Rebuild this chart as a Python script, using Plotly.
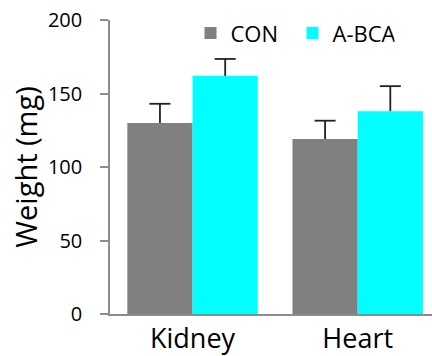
import plotly.graph_objects as go

categories = ["Kidney", "Heart"]
con_values = [130, 119]
con_err = [13, 12.5]
abca_values = [162, 138]
abca_err = [11.5, 17]
y_ticks = [0, 50, 100, 150, 200]

ERR_COLOR = "#222222"

def add_series(name, values, errs, color, group):
    fig.add_trace(go.Bar(
        name=name, x=categories, y=values, offsetgroup=group,
        marker=dict(color=color, line=dict(width=0)),
        error_y=dict(type="data", array=errs, arrayminus=[0] * len(errs), symmetric=False,
                     color=ERR_COLOR, thickness=1.8, width=0),
    ))
    tops = [v + e for v, e in zip(values, errs)]
    fig.add_trace(go.Scatter(
        x=categories, y=tops, offsetgroup=group, mode="markers", showlegend=False,
        hoverinfo="skip",
        marker=dict(symbol="line-ew", size=15, line=dict(color=ERR_COLOR, width=1.8)),
    ))

fig = go.Figure()
add_series("CON", con_values, con_err, "#808080", "a")
add_series("A-BCA", abca_values, abca_err, "#00FFFF", "b")

fig.update_layout(
    width=432, height=356,
    margin=dict(l=110, r=0, t=20, b=40),
    paper_bgcolor="white", plot_bgcolor="white",
    barmode="group", bargap=0.21, bargroupgap=0,
    scattermode="group", scattergap=0.21,
    font=dict(family="Open Sans", color="#000000"),
    showlegend=True,
    legend=dict(orientation="h", x=0.25, xanchor="left", y=0.955, yanchor="middle",
                font=dict(size=22, family="Open Sans", color="#000000"),
                bgcolor="rgba(0,0,0,0)", entrywidth=57, entrywidthmode="pixels"),
    xaxis=dict(type="category", range=[-0.5, 1.45], showline=True, linecolor="#8c8c8c",
               linewidth=1.5, ticks="", showgrid=False, zeroline=False,
               tickfont=dict(size=27, family="Open Sans", color="#000000")),
    yaxis=dict(range=[0, 200], tickvals=y_ticks, showline=True, linecolor="#8c8c8c",
               linewidth=1.5, ticks="outside", ticklen=8, tickwidth=1.5, tickcolor="#8c8c8c",
               showgrid=False, zeroline=False, ticklabelstandoff=14,
               tickfont=dict(size=20, family="Open Sans", color="#000000"),
               title=dict(text="Weight (mg)", font=dict(size=29, family="Open Sans", color="#000000"),
                          standoff=2)),
)

fig.write_html("out.html")
